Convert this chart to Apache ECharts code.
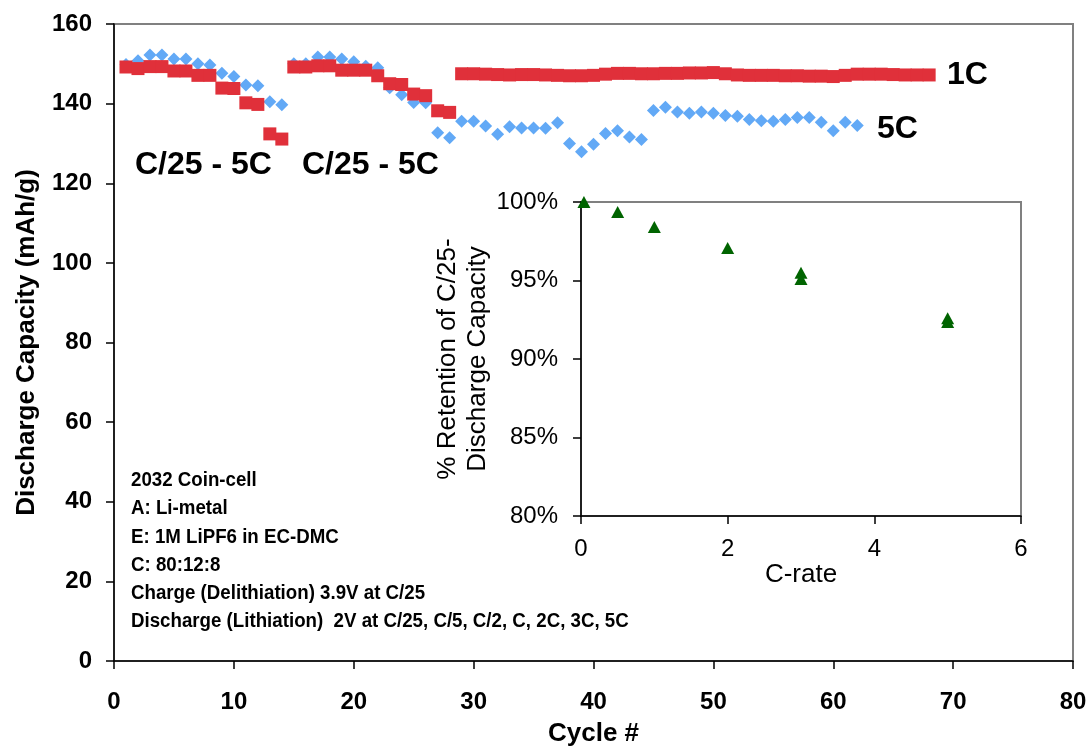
<!DOCTYPE html>
<html>
<head>
<meta charset="utf-8">
<title>Discharge Capacity vs Cycle</title>
<script src="https://cdn.jsdelivr.net/npm/echarts@6/dist/echarts.min.js"></script>
<style>
  html, body { margin: 0; padding: 0; background: #ffffff; }
  #chart { width: 1091px; height: 749px; }
</style>
</head>
<body>
<div id="chart"></div>
<script>
// Cell cycled C/25-5C twice, then held at 1C
const cycles1C = [
  1, 2, 3, 4, 5, 6, 7, 8, 9, 10, 11, 12, 13, 14,
  15, 16, 17, 18, 19, 20, 21, 22, 23, 24, 25, 26, 27, 28,
  29, 30, 31, 32, 33, 34, 35, 36, 37, 38, 39, 40, 41, 42, 43, 44, 45, 46, 47, 48,
  49, 50, 51, 52, 53, 54, 55, 56, 57, 58, 59, 60, 61, 62, 63, 64, 65, 66, 67, 68
];
const capacity1C = [
  149.2, 148.8, 149.3, 149.3, 148.2, 148.2, 147.1, 147.1, 143.9, 143.8, 140.2, 139.8, 132.4, 131.1,
  149.2, 149.2, 149.5, 149.5, 148.4, 148.4, 148.4, 147.0, 145.0, 144.8, 142.4, 142.0, 138.2, 137.8,
  147.5, 147.5, 147.4, 147.3, 147.2, 147.3, 147.3, 147.2, 147.1, 147.0, 147.0, 147.1, 147.4, 147.6,
  147.6, 147.5, 147.5, 147.6, 147.6, 147.7, 147.7, 147.8, 147.5, 147.2, 147.1, 147.1, 147.1, 147.0,
  147.0, 146.9, 146.9, 146.8, 147.1, 147.4, 147.4, 147.4, 147.3, 147.2, 147.2, 147.2
];

// Cell cycled C/25-5C twice, then held at 5C
const cycles5C = [
  1, 2, 3, 4, 5, 6, 7, 8, 9, 10, 11, 12, 13, 14,
  15, 16, 17, 18, 19, 20, 21, 22, 23, 24, 25, 26, 27, 28,
  29, 30, 31, 32, 33, 34, 35, 36, 37, 38, 39, 40, 41, 42, 43, 44, 45, 46, 47, 48,
  49, 50, 51, 52, 53, 54, 55, 56, 57, 58, 59, 60, 61, 62
];
const capacity5C = [
  149.8, 150.8, 152.2, 152.2, 151.2, 151.2, 150.0, 149.7, 147.6, 146.8, 144.7, 144.5, 140.5, 139.7,
  150.0, 150.0, 151.7, 151.7, 151.2, 150.5, 149.4, 149.0, 144.0, 142.2, 140.3, 140.2, 132.7, 131.4,
  135.6, 135.6, 134.4, 132.3, 134.2, 133.9, 133.9, 133.8, 135.2, 130.0, 127.9, 129.8, 132.5, 133.2,
  131.6, 131.0, 138.3, 139.1, 137.9, 137.6, 137.9, 137.6, 137.0, 136.8, 136.0, 135.7, 135.6, 136.0,
  136.5, 136.5, 135.3, 133.2, 135.3, 134.5
];

// Inset: capacity retained relative to C/25 discharge
const cRates = [0.04, 0.5, 1, 2, 3, 3, 5, 5];
const retention = [100, 99.36, 98.4, 97.07, 95.5, 95.1, 92.6, 92.35];

const cellNotes = [
  '2032 Coin-cell',
  'A: Li-metal',
  'E: 1M LiPF6 in EC-DMC',
  'C: 80:12:8',
  'Charge (Delithiation) 3.9V at C/25',
  'Discharge (Lithiation)  2V at C/25, C/5, C/2, C, 2C, 3C, 5C'
];

const FONT = '"Liberation Sans", Arial, Helvetica, sans-serif';
const zip = (xs, ys) => xs.map((x, i) => [x, ys[i]]);

const axisLine = { show: true, lineStyle: { color: '#000', width: 1.5 } };
const axisTick = { show: true, inside: false, length: 8, lineStyle: { color: '#000', width: 1.5 } };

const chart = echarts.init(document.getElementById('chart'), null, { renderer: 'canvas' });

chart.setOption({
  animation: false,
  backgroundColor: '#ffffff',
  textStyle: { fontFamily: FONT },
  grid: [
    { left: 114, top: 24, right: 18, bottom: 88, show: true, containLabel: false, outerBoundsMode: 'none',
      borderColor: '#808080', borderWidth: 2, backgroundColor: 'transparent' },
    { left: 581, top: 202, right: 70, bottom: 233, show: true, containLabel: false, outerBoundsMode: 'none',
      borderColor: '#808080', borderWidth: 2, backgroundColor: '#ffffff' }
  ],
  xAxis: [
    {
      gridIndex: 0, type: 'value', min: 0, max: 80, interval: 10,
      axisLine, axisTick, splitLine: { show: false },
      axisLabel: { fontSize: 24, fontWeight: 'bold', color: '#000', fontFamily: FONT, margin: 29 },
      name: 'Cycle #', nameLocation: 'middle', nameGap: 60,
      nameTextStyle: { fontSize: 26, fontWeight: 'bold', color: '#000', fontFamily: FONT }
    },
    {
      gridIndex: 1, type: 'value', min: 0, max: 6, interval: 2,
      axisLine, axisTick, splitLine: { show: false },
      axisLabel: { fontSize: 24, color: '#000', fontFamily: FONT, margin: 21 },
      name: 'C-rate', nameLocation: 'middle', nameGap: 40,
      nameTextStyle: { fontSize: 26, color: '#000', fontFamily: FONT }
    }
  ],
  yAxis: [
    {
      gridIndex: 0, type: 'value', min: 0, max: 160, interval: 20,
      axisLine, axisTick, splitLine: { show: false },
      axisLabel: { fontSize: 24, fontWeight: 'bold', color: '#000', fontFamily: FONT, margin: 22 },
      name: 'Discharge Capacity (mAh/g)', nameLocation: 'middle', nameGap: 74, nameRotate: 90,
      nameTextStyle: { fontSize: 26, fontWeight: 'bold', color: '#000', fontFamily: FONT }
    },
    {
      gridIndex: 1, type: 'value', min: 80, max: 100, interval: 5,
      axisLine, axisTick, splitLine: { show: false },
      axisLabel: { fontSize: 24, color: '#000', fontFamily: FONT, margin: 23, formatter: '{value}%' },
      name: '% Retention of C/25-\nDischarge Capacity', nameLocation: 'middle', nameGap: 77, nameRotate: 90,
      nameTextStyle: { fontSize: 26, lineHeight: 30, color: '#000', fontFamily: FONT, align: 'center' }
    }
  ],
  series: [
    {
      name: '5C', type: 'scatter', xAxisIndex: 0, yAxisIndex: 0,
      symbol: 'diamond', symbolSize: 13, clip: false, z: 2,
      itemStyle: { color: '#62A9F6', opacity: 1 },
      data: zip(cycles5C, capacity5C)
    },
    {
      name: '1C', type: 'scatter', xAxisIndex: 0, yAxisIndex: 0,
      symbol: 'rect', symbolSize: 13, clip: false, z: 3,
      itemStyle: { color: '#E0303A', opacity: 1 },
      data: zip(cycles1C, capacity1C)
    },
    {
      name: 'Retention', type: 'scatter', xAxisIndex: 1, yAxisIndex: 1,
      symbol: 'triangle', symbolSize: [13, 12], clip: false, z: 4,
      itemStyle: { color: '#006400', opacity: 1 },
      data: zip(cRates, retention)
    }
  ],
  graphic: [
    { type: 'text', x: 135, y: 165, z: 10,
      style: { text: 'C/25 - 5C', fill: '#000', font: 'bold 32px ' + FONT, align: 'left', verticalAlign: 'middle' } },
    { type: 'text', x: 302, y: 165, z: 10,
      style: { text: 'C/25 - 5C', fill: '#000', font: 'bold 32px ' + FONT, align: 'left', verticalAlign: 'middle' } },
    { type: 'text', x: 947, y: 75, z: 10,
      style: { text: '1C', fill: '#000', font: 'bold 32px ' + FONT, align: 'left', verticalAlign: 'middle' } },
    { type: 'text', x: 877, y: 129, z: 10,
      style: { text: '5C', fill: '#000', font: 'bold 32px ' + FONT, align: 'left', verticalAlign: 'middle' } },
    { type: 'text', x: 131, y: 466.5, z: 10, scaleX: 0.935,
      style: { text: cellNotes.join('\n'), fill: '#000', font: 'bold 20px ' + FONT,
               lineHeight: 28.2, align: 'left', verticalAlign: 'top' } }
  ]
});
</script>
</body>
</html>
